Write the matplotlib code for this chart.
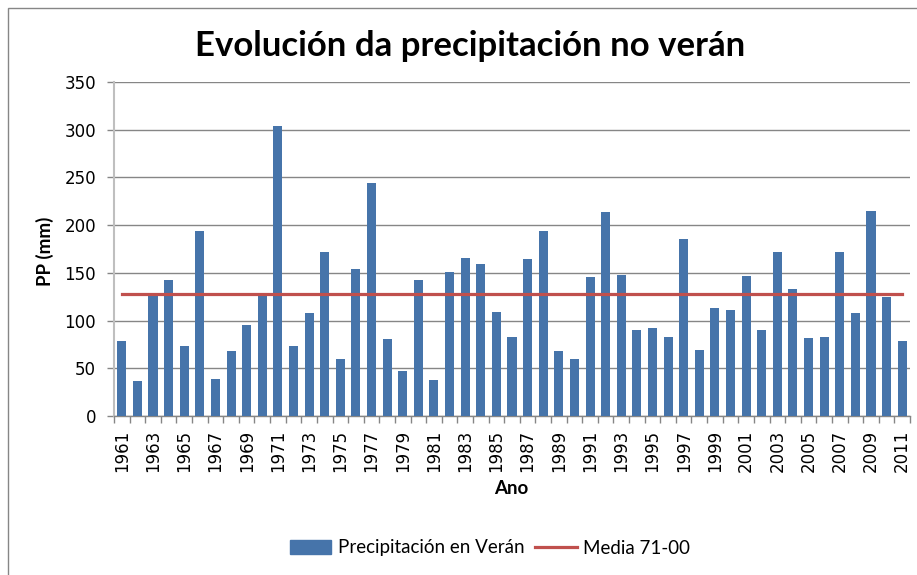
import matplotlib
matplotlib.use("Agg")
import matplotlib.pyplot as plt
from matplotlib.patches import Rectangle
from matplotlib.lines import Line2D
import numpy as np

years = list(range(1961, 2012))
precip = [79, 37, 127, 142, 73, 194, 39, 68, 95, 127,
          304, 73, 108, 172, 60, 154, 244, 81, 47, 143,
          38, 151, 166, 159, 109, 83, 165, 194, 68, 60,
          146, 214, 148, 90, 92, 83, 185, 69, 113, 111,
          147, 90, 172, 133, 82, 83, 172, 108, 215, 125,
          79]
media_71_00 = 127.6
yticks = [0, 50, 100, 150, 200, 250, 300, 350]

W, H = 917, 575
fig = plt.figure(figsize=(W / 100, H / 100), dpi=100)
ax = fig.add_axes([114 / W, 1 - 416 / H, (910 - 114) / W, (416 - 82) / H])

x = np.arange(len(years))
ax.bar(x, precip, width=0.58, color="#4674AA", zorder=3, label="Precipitación en Verán")
ax.plot([x[0], x[-1]], [media_71_00, media_71_00], color="#C0504D", lw=2.3, zorder=4,
        label="Media 71-00")

ax.set_xlim(-0.5, len(years) - 0.5)
ax.set_ylim(0, 350)
ax.set_yticks(yticks)
ax.yaxis.grid(True, color="#868686", lw=1.0, zorder=0)
ax.set_axisbelow(True)

ax.set_xticks(x[::2])
ax.set_xticklabels([str(y) for y in years[::2]], rotation=90, fontsize=12,
                   family="DejaVu Sans")
ax.set_xticks(np.arange(-0.5, len(years), 1), minor=True)
ax.tick_params(axis="x", which="major", length=0, pad=10)
ax.tick_params(axis="x", which="minor", length=5, color="#868686", width=1)
ax.tick_params(axis="y", length=5, color="#868686", width=1, pad=8, labelsize=12)
for lab in ax.get_yticklabels():
    lab.set_family("DejaVu Sans")

for s in ["top", "right"]:
    ax.spines[s].set_visible(False)
ax.spines["left"].set_color("#BFBFBF")
ax.spines["left"].set_linewidth(1.5)
ax.spines["bottom"].set_color("#868686")
ax.spines["bottom"].set_linewidth(1.0)

fig.text(470 / W, 1 - 46 / H, "Evolución da precipitación no verán", ha="center", va="center",
         fontsize=25, fontweight="bold", family="Lato")
fig.text(45 / W, 1 - 251 / H, "PP (mm)", rotation=90, ha="center", va="center",
         fontsize=13.5, fontweight="bold", family="Lato")
fig.text(511 / W, 1 - 489 / H, "Ano", ha="center", va="center",
         fontsize=13.5, fontweight="bold", family="Lato")

handles = [Rectangle((0, 0), 1, 1, color="#4674AA"),
           Line2D([0], [0], color="#C0504D", lw=2.3)]
fig.legend(handles, ["Precipitación en Verán", "Media 71-00"], loc="center",
           bbox_to_anchor=(490 / W, 1 - 548 / H), ncol=2, frameon=False,
           prop={"family": "Lato", "size": 13.5}, handlelength=2.2, handleheight=0.75,
           handletextpad=0.35, columnspacing=0.6)

fig.patches.append(Rectangle((8 / W, -0.1), 2, 1 - 8 / H + 0.1, transform=fig.transFigure,
                             fill=False, edgecolor="#868686", lw=1.0))

fig.savefig("out.png", dpi=100)
